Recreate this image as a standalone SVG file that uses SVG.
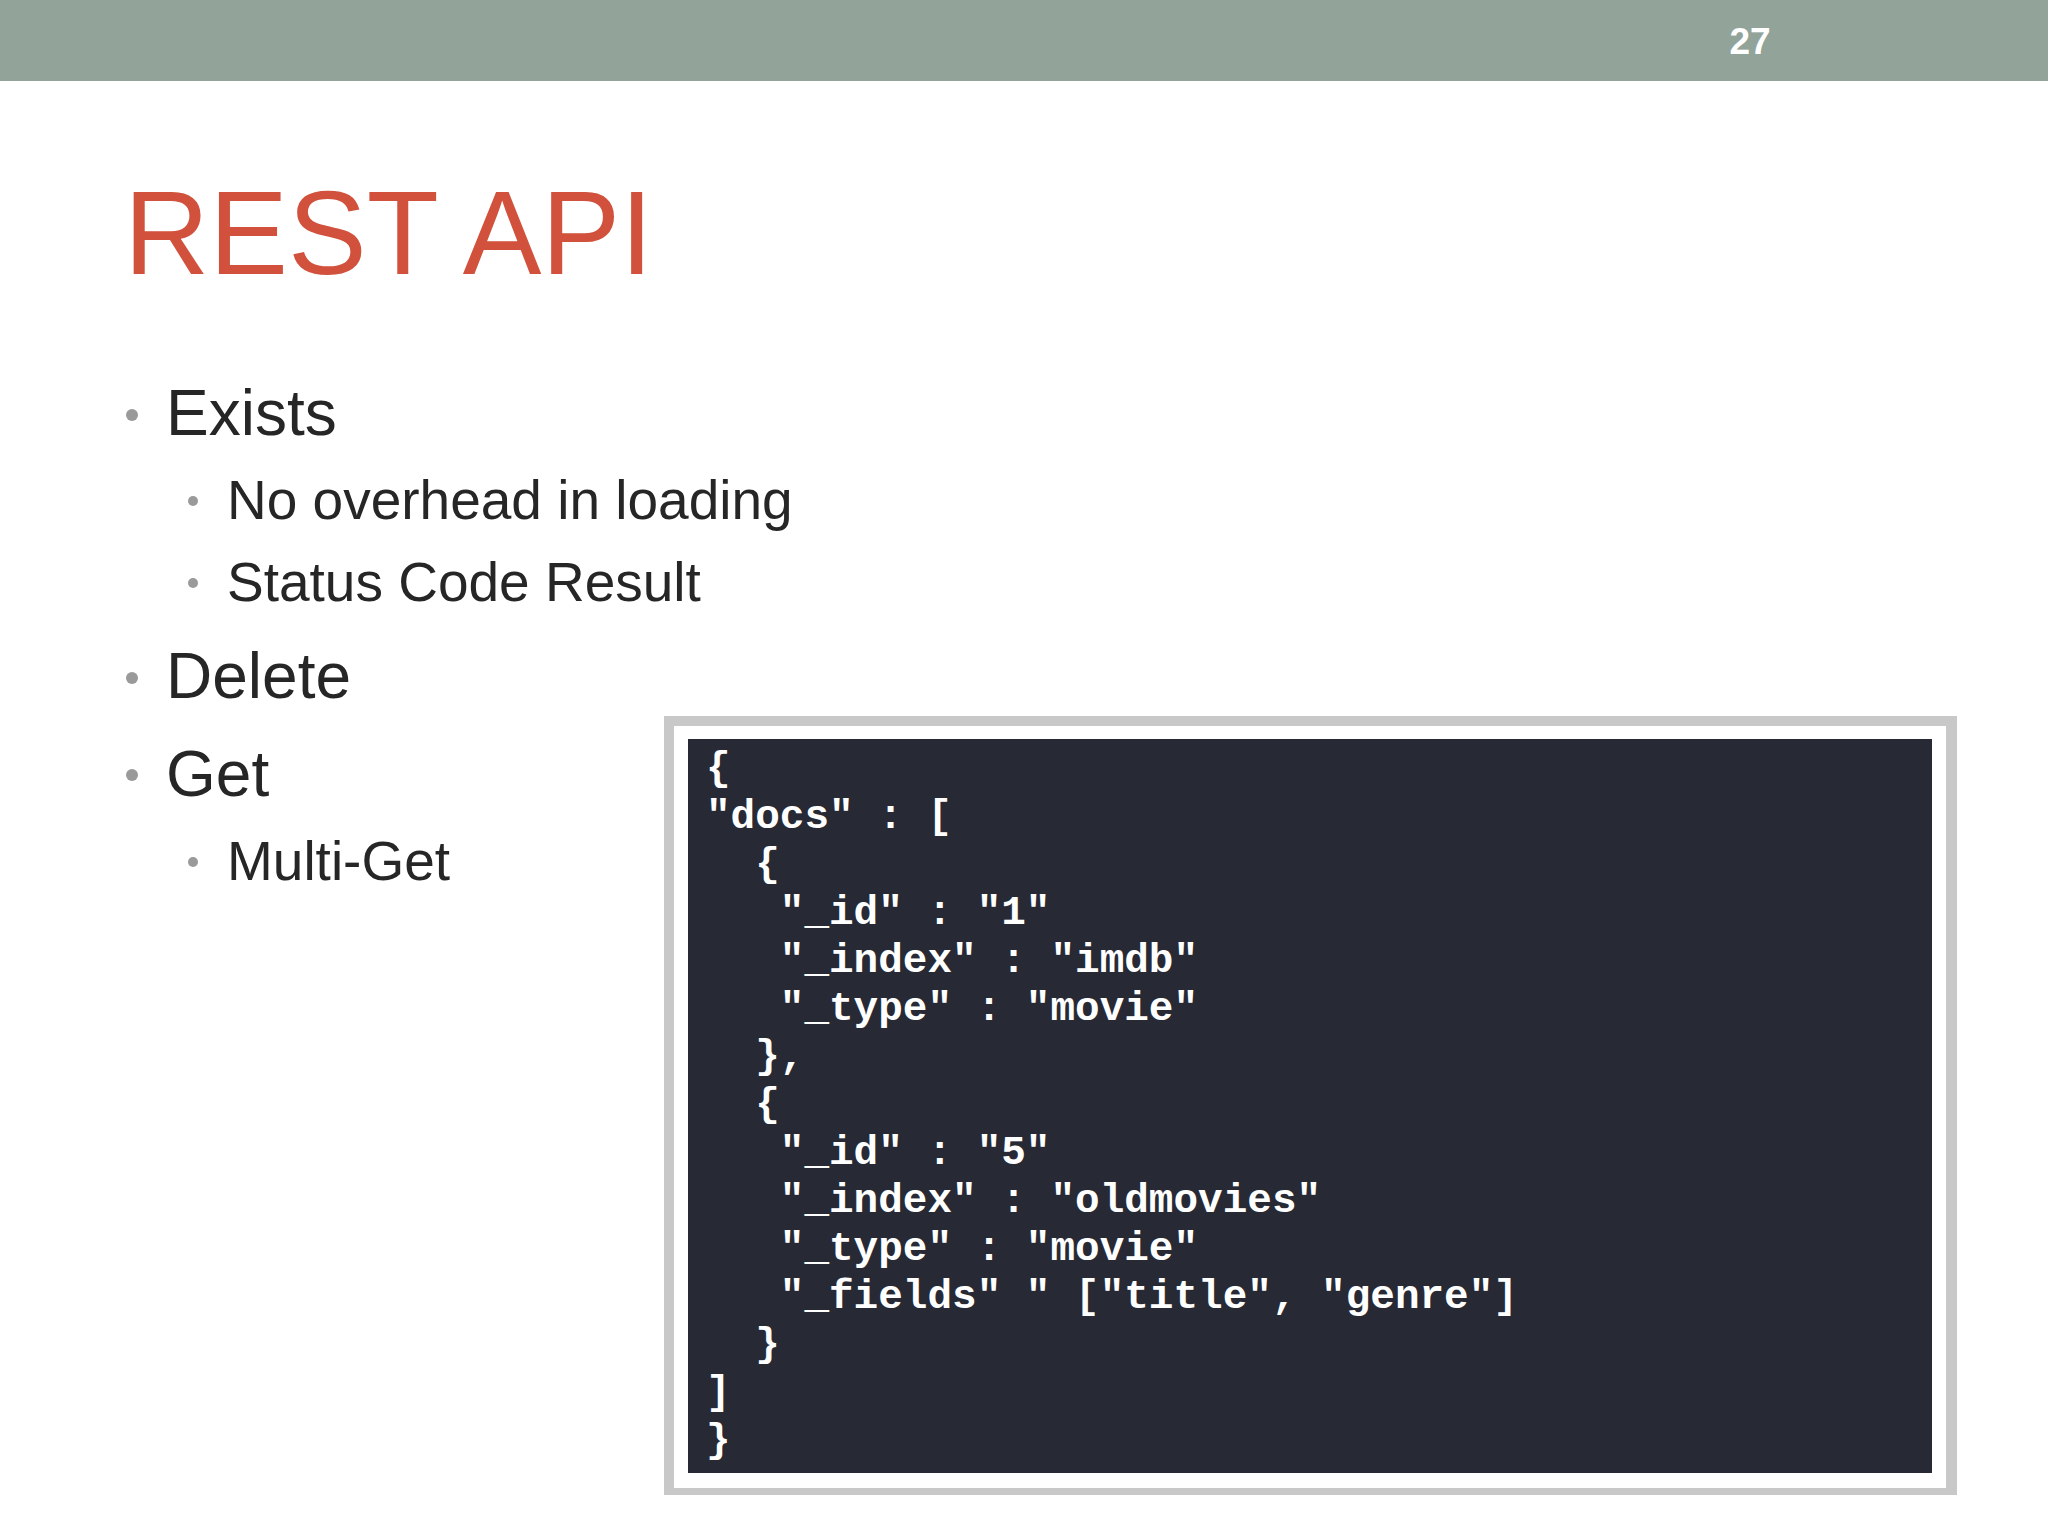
<svg xmlns="http://www.w3.org/2000/svg" width="2048" height="1536" viewBox="0 0 2048 1536">
<style>
.b{font-family:"Liberation Sans",Arial,sans-serif;fill:#262626}
.d{fill:#9a9a9a}
.c{font-family:"Liberation Mono","Courier New",monospace;font-weight:bold;font-size:41px;fill:#ffffff}
</style>
<rect width="2048" height="1536" fill="#ffffff"/>
<rect width="2048" height="81" fill="#92a39a"/>
<text x="1750" y="54" font-family="Liberation Sans,sans-serif" font-weight="bold" font-size="37" fill="#ffffff" text-anchor="middle">27</text>
<text x="124" y="274" font-family="Liberation Sans,sans-serif" font-size="118" fill="#d1513c">REST API</text>
<g id="bullets">
<circle class="d" cx="132" cy="415" r="6"/><text class="b" x="166" y="435" font-size="64">Exists</text>
<circle class="d" cx="193" cy="501" r="5"/><text class="b" x="227" y="519" font-size="55">No overhead in loading</text>
<circle class="d" cx="193" cy="583" r="5"/><text class="b" x="227" y="601" font-size="55">Status Code Result</text>
<circle class="d" cx="132" cy="678" r="6"/><text class="b" x="166" y="698" font-size="64">Delete</text>
<circle class="d" cx="132" cy="775" r="6"/><text class="b" x="166" y="796" font-size="64">Get</text>
<circle class="d" cx="193" cy="862" r="5"/><text class="b" x="227" y="880" font-size="55">Multi-Get</text>
</g>
<g id="code">
<rect x="664" y="716" width="1293" height="779" fill="#c8c8c8"/>
<rect x="674" y="726" width="1272" height="762" fill="#ffffff"/>
<rect x="688" y="739" width="1244" height="734" fill="#272a35"/>
<text class="c" xml:space="preserve">
<tspan x="706" y="780">{</tspan>
<tspan x="706" y="828">"docs" : [</tspan>
<tspan x="706" y="876">  {</tspan>
<tspan x="706" y="924">   "_id" : "1"</tspan>
<tspan x="706" y="972">   "_index" : "imdb"</tspan>
<tspan x="706" y="1020">   "_type" : "movie"</tspan>
<tspan x="706" y="1068">  },</tspan>
<tspan x="706" y="1116">  {</tspan>
<tspan x="706" y="1164">   "_id" : "5"</tspan>
<tspan x="706" y="1212">   "_index" : "oldmovies"</tspan>
<tspan x="706" y="1260">   "_type" : "movie"</tspan>
<tspan x="706" y="1308">   "_fields" " ["title", "genre"]</tspan>
<tspan x="706" y="1356">  }</tspan>
<tspan x="706" y="1404">]</tspan>
<tspan x="706" y="1452">}</tspan>
</text>
</g>
</svg>
